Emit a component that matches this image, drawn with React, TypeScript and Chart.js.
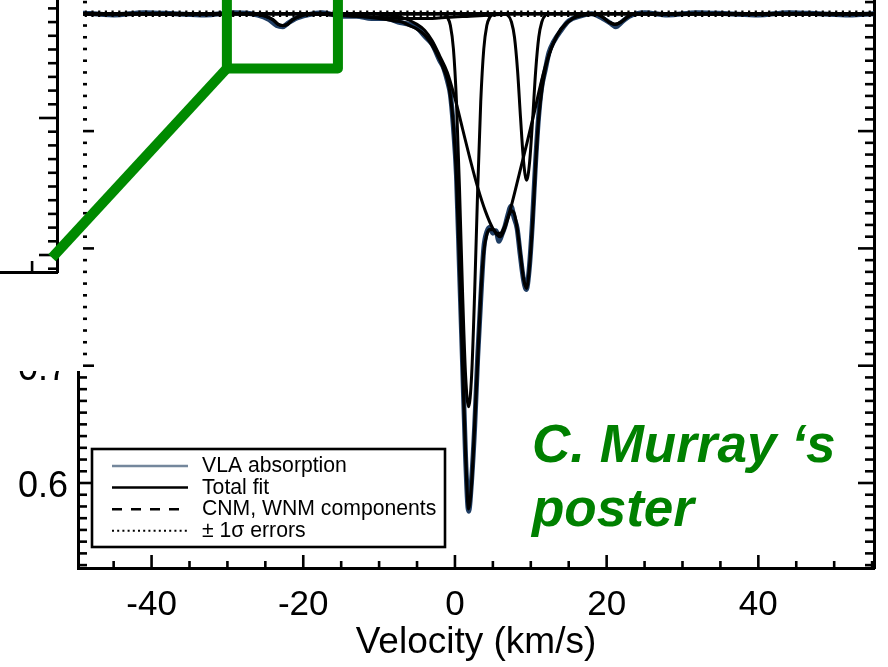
import React, { useEffect, useRef } from "react";
import { Chart, registerables } from "chart.js";

Chart.register(...registerables);

const FONT = "'Liberation Sans', Arial, Helvetica, sans-serif";

// VLA absorption spectrum, e^-tau against LSR velocity (km/s)
const vlaVelocity = [
  -49.7, -45, -41, -37, -33, -29, -26, -24.5, -23.5, -22.7,
  -22, -21, -19.5, -17.5, -15, -13, -11, -9, -7.5, -6,
  -5, -4, -3, -2, -1.5, -1, -0.6, -0.2, 0.2, 0.6,
  1.0, 1.4, 1.8, 2.2, 2.6, 3.0, 3.4, 3.8, 4.2, 4.6,
  5.0, 5.4, 5.8, 6.2, 6.6, 7.0, 7.4, 7.8, 8.2, 8.6,
  9.0, 9.4, 9.8, 10.2, 10.6, 11.0, 11.4, 11.9, 12.4, 13.0,
  14, 15, 16.5, 18, 19.5, 20.5, 21.2, 22, 23, 25,
  28, 32, 36, 40, 44, 48, 52, 55.25,
];
const vlaAbsorption = [
  1.001, 0.999, 1.001, 1.0, 0.999, 1.001, 0.999, 0.995, 0.99, 0.989,
  0.992, 0.996, 0.999, 1.001, 0.998, 0.998, 0.996, 0.996, 0.993, 0.991,
  0.988, 0.981, 0.974, 0.96, 0.954, 0.943, 0.931, 0.903, 0.862, 0.782,
  0.703, 0.622, 0.576, 0.603, 0.648, 0.708, 0.757, 0.8, 0.814, 0.818,
  0.813, 0.815, 0.806, 0.812, 0.819, 0.829, 0.836, 0.826, 0.817, 0.795,
  0.775, 0.765, 0.783, 0.821, 0.87, 0.91, 0.936, 0.952, 0.967, 0.976,
  0.986, 0.994, 0.998, 1.0, 0.996, 0.992, 0.989, 0.993, 0.998, 1.001,
  0.999, 1.001, 1.0, 0.999, 1.001, 1.0, 0.999, 1.0,
];

// Total Gaussian fit
const fitVelocity = [
  -49.7, -40, -32, -27, -25, -24, -23.3, -22.7, -22.1, -21.4,
  -20.4, -19, -16, -13, -10, -8, -7, -6, -5, -4,
  -3, -2, -1.5, -1, -0.6, -0.2, 0.2, 0.6, 1.0, 1.4,
  1.8, 2.2, 2.6, 3.0, 3.4, 3.8, 4.2, 4.6, 5.1, 5.5,
  6.0, 6.5, 7.0, 7.45, 7.85, 8.25, 8.65, 9.05, 9.45, 9.85,
  10.25, 10.65, 11.05, 11.45, 11.95, 12.45, 12.9, 14, 15.5, 17,
  18.5, 19.5, 20.3, 21.1, 21.9, 22.7, 23.7, 30, 40, 55.25,
];
const totalFit = [
  1.0, 1.0, 1.0, 1.0, 0.998, 0.995, 0.991, 0.99, 0.991, 0.995,
  0.998, 1.0, 0.999, 0.998, 0.996, 0.994, 0.993, 0.99, 0.987, 0.982,
  0.973, 0.961, 0.953, 0.944, 0.93, 0.905, 0.86, 0.785, 0.7, 0.625,
  0.578, 0.6, 0.65, 0.705, 0.76, 0.797, 0.812, 0.816, 0.816, 0.812,
  0.81, 0.816, 0.826, 0.832, 0.829, 0.815, 0.794, 0.774, 0.766, 0.786,
  0.824, 0.873, 0.912, 0.935, 0.954, 0.966, 0.974, 0.987, 0.996, 0.999,
  1.0, 0.997, 0.993, 0.991, 0.993, 0.997, 1.0, 1.0, 1.0, 1.0,
];

// Narrow cold component near 1.8 km/s
const cnmAVelocity = [-49.7, -1.5, -1.0, -0.6, -0.2, 0.2, 0.6, 1.0, 1.4, 1.8, 2.2, 2.6, 3.0, 3.4, 3.8, 4.2, 4.6, 5.1, 55.25];
const cnmA = [1, 1.0, 0.997, 0.99, 0.97, 0.925, 0.851, 0.763, 0.692, 0.665, 0.692, 0.763, 0.851, 0.925, 0.97, 0.99, 0.997, 1.0, 1];

// Narrow cold component near 9.5 km/s
const cnmBVelocity = [-49.7, 6.45, 6.95, 7.45, 7.85, 8.25, 8.65, 9.05, 9.45, 9.85, 10.25, 10.65, 11.05, 11.45, 11.95, 12.45, 55.25];
const cnmB = [1, 1.0, 0.999, 0.993, 0.98, 0.952, 0.911, 0.874, 0.858, 0.874, 0.911, 0.952, 0.98, 0.993, 0.999, 1.0, 1];

// Broad component centred near 5.5 km/s
const wnmAVelocity = [
  -49.7, -12, -9, -7, -5, -4, -3, -2, -1, 0,
  1, 2, 3, 4, 5, 5.5, 6, 6.5, 7, 7.5,
  8.5, 9.5, 10.5, 11.2, 12, 12.9, 14, 15.5, 17, 19, 55.25,
];
const wnmA = [
  1, 1.0, 0.999, 0.997, 0.991, 0.986, 0.977, 0.964, 0.95, 0.928,
  0.902, 0.876, 0.852, 0.832, 0.817, 0.813, 0.813, 0.818, 0.827, 0.838,
  0.864, 0.89, 0.917, 0.937, 0.957, 0.974, 0.987, 0.996, 0.999, 1.0, 1,
];

// Shallow wide component on the blue wing
const wnmBVelocity = [-49.7, -20, -16, -13, -10, -7, -5, -3, -1, 2, 5, 8, 55.25];
const wnmB = [1, 1.0, 0.999, 0.998, 0.997, 0.996, 0.996, 0.996, 0.997, 0.998, 0.999, 1.0, 1];

// Weak features at -22.7 and +21 km/s
const weakAVelocity = [-49.7, -26, -25, -24, -23.3, -22.7, -22.1, -21.4, -20.4, -19.4, 55.25];
const weakA = [1, 1.0, 0.998, 0.995, 0.991, 0.99, 0.991, 0.995, 0.998, 1.0, 1];
const weakBVelocity = [-49.7, 18.5, 19.5, 20.3, 21.1, 21.9, 22.7, 23.7, 55.25];
const weakB = [1, 1.0, 0.997, 0.993, 0.991, 0.993, 0.997, 1.0, 1];

// ±1σ noise envelope of the continuum
const errorVelocity = [-49.7, 55.25];
const errorUpper = [1.0018, 1.0018];
const errorLower = [0.9982, 0.9982];

const velocityTicks = [-40, -20, 0, 20, 40];
const absorptionTicks = [0.6, 0.7, 0.8, 0.9, 1.0];
const velocityRange = [-49.7, 55.25];
const absorptionRange = [0.52754, 1.01177];

// Window that is enlarged in the inset panel
const zoomVelocity = [-30.07, -15.43];
const zoomFloor = 0.9534;
const insetVelocityRange = [-27, -19.3];
const insetAbsorptionRange = [0.98876, 1.01591];
const insetAnchor = [-19.44, 0.9898];

const legendLabels = ["VLA absorption", "Total fit", "CNM, WNM components", "\u00b1 1\u03c3 errors"];
const legendStyles = [
  { color: "#74879c", width: 2.4, dash: [] as number[] },
  { color: "#000000", width: 2.5, dash: [] as number[] },
  { color: "#000000", width: 2.5, dash: [10, 9] },
  { color: "#000000", width: 2, dash: [2, 3.2] },
];

const DATA_COLOR = "#1f3d63";
const GREEN = "#008a00";

const pts = (xs: number[], ys: number[]) => xs.map((x, i) => ({ x, y: ys[i] }));

type TickSpec = { id: string; side: "bottom" | "left" | "right"; step: number; major: number; minorLen: number; majorLen: number };

// Inward-pointing major/minor tick marks, placed through the chart's own scales
function makeTickPlugin(specs: TickSpec[]) {
  return {
    id: "inwardTicks",
    afterDraw(chart: any) {
      const { ctx, chartArea } = chart;
      ctx.save();
      ctx.strokeStyle = "#000";
      ctx.lineWidth = 2.6;
      for (const spec of specs) {
        const scale = chart.scales[spec.id];
        if (!scale) continue;
        const every = Math.round(spec.major / spec.step);
        const k0 = Math.ceil(scale.min / spec.step - 1e-9);
        const k1 = Math.floor(scale.max / spec.step + 1e-9);
        for (let k = k0; k <= k1; k++) {
          const len = k % every === 0 ? spec.majorLen : spec.minorLen;
          const p = scale.getPixelForValue(k * spec.step);
          ctx.beginPath();
          if (spec.side === "bottom") {
            ctx.moveTo(p, chartArea.bottom);
            ctx.lineTo(p, chartArea.bottom - len);
          } else if (spec.side === "left") {
            ctx.moveTo(chartArea.left, p);
            ctx.lineTo(chartArea.left + len, p);
          } else {
            ctx.moveTo(chartArea.right, p);
            ctx.lineTo(chartArea.right - len, p);
          }
          ctx.stroke();
        }
      }
      ctx.restore();
    },
  };
}

// Boxed legend in the lower-left corner of the plot
const boxLegend = {
  id: "boxLegend",
  afterDraw(chart: any) {
    const { ctx, chartArea } = chart;
    const left = chartArea.left + 14;
    const bottom = chartArea.bottom - 21;
    const w = 353;
    const h = 98;
    const top = bottom - h;
    ctx.save();
    ctx.fillStyle = "#fff";
    ctx.fillRect(left, top, w, h);
    ctx.lineWidth = 2.6;
    ctx.strokeStyle = "#000";
    ctx.strokeRect(left, top, w, h);
    ctx.font = `21.2px ${FONT}`;
    ctx.textBaseline = "alphabetic";
    legendLabels.forEach((label, i) => {
      const y = top + 17 + i * 21.6;
      const st = legendStyles[i];
      ctx.beginPath();
      ctx.setLineDash(st.dash);
      ctx.lineWidth = st.width;
      ctx.strokeStyle = st.color;
      ctx.moveTo(left + 20, y);
      ctx.lineTo(left + 96, y);
      ctx.stroke();
      ctx.setLineDash([]);
      ctx.fillStyle = "#000";
      ctx.fillText(label, left + 110, y + 6);
    });
    ctx.restore();
  },
};

function drawZoomMarker(main: any, inset: any, overlay: HTMLCanvasElement, insetCanvas: HTMLCanvasElement) {
  const ctx = overlay.getContext("2d");
  if (!ctx) return;
  ctx.clearRect(0, 0, overlay.width, overlay.height);
  const o = overlay.getBoundingClientRect();
  const r = insetCanvas.getBoundingClientRect();
  const dx = r.left - o.left;
  const dy = r.top - o.top;
  const xs = main.scales.x;
  const ys = main.scales.y;
  const left = xs.getPixelForValue(zoomVelocity[0]);
  const right = xs.getPixelForValue(zoomVelocity[1]);
  const floor = ys.getPixelForValue(zoomFloor);
  const top = ys.getPixelForValue(1.05);
  const ex = inset.scales.x.getPixelForValue(insetAnchor[0]) + dx;
  const ey = inset.scales.y.getPixelForValue(insetAnchor[1]) + dy;
  ctx.save();
  ctx.strokeStyle = GREEN;
  ctx.lineWidth = 10;
  ctx.lineJoin = "round";
  ctx.lineCap = "butt";
  ctx.beginPath();
  ctx.moveTo(left, top);
  ctx.lineTo(left, floor);
  ctx.lineTo(right, floor);
  ctx.lineTo(right, top);
  ctx.stroke();
  ctx.beginPath();
  ctx.moveTo(left, floor);
  ctx.lineTo(ex, ey);
  ctx.stroke();
  ctx.restore();
}

export default function App() {
  const mainRef = useRef<HTMLCanvasElement>(null);
  const insetRef = useRef<HTMLCanvasElement>(null);
  const overlayRef = useRef<HTMLCanvasElement>(null);

  useEffect(() => {
    Chart.defaults.font.family = FONT;
    Chart.defaults.color = "#000";

    const noGrid = { display: false, drawTicks: false };
    const border = { display: true, width: 3, color: "#000" };

    const inset = new Chart(insetRef.current as HTMLCanvasElement, {
      type: "line",
      data: { datasets: [] },
      options: {
        animation: false,
        responsive: false,
        devicePixelRatio: 1,
        layout: { padding: 0 },
        plugins: { legend: { display: false }, tooltip: { enabled: false } },
        scales: {
          x: {
            type: "linear",
            position: "bottom",
            min: insetVelocityRange[0],
            max: insetVelocityRange[1],
            grid: noGrid,
            border,
            ticks: { display: false },
            afterFit: (s: any) => {
              s.height = 99;
              s.paddingLeft = 0;
              s.paddingRight = 0;
            },
          },
          y: {
            type: "linear",
            position: "right",
            min: insetAbsorptionRange[0],
            max: insetAbsorptionRange[1],
            grid: noGrid,
            border,
            ticks: { display: false },
            afterFit: (s: any) => {
              s.width = 26;
              s.paddingTop = 0;
              s.paddingBottom = 0;
            },
          },
        },
      } as any,
      plugins: [
        makeTickPlugin([
          { id: "y", side: "right", step: 0.001, major: 0.01, minorLen: 9, majorLen: 18 },
          { id: "x", side: "bottom", step: 1, major: 5, minorLen: 6, majorLen: 11 },
        ]),
      ],
    });

    const component = (data: { x: number; y: number }[], label: string) => ({
      label,
      data,
      borderColor: "#000",
      borderWidth: 3,
      order: 2,
    });

    const main = new Chart(mainRef.current as HTMLCanvasElement, {
      type: "line",
      data: {
        datasets: [
          { label: "+1σ", data: pts(errorVelocity, errorUpper), borderColor: "#000", borderWidth: 2.2, borderDash: [2.2, 4.5], order: 0 },
          { label: "-1σ", data: pts(errorVelocity, errorLower), borderColor: "#000", borderWidth: 2.2, borderDash: [2.2, 4.5], order: 0 },
          { label: "Total fit", data: pts(fitVelocity, totalFit), borderColor: "#000", borderWidth: 3.2, order: 1 },
          component(pts(cnmAVelocity, cnmA), "CNM 1"),
          component(pts(cnmBVelocity, cnmB), "CNM 2"),
          component(pts(wnmAVelocity, wnmA), "WNM 1"),
          component(pts(wnmBVelocity, wnmB), "WNM 2"),
          component(pts(weakAVelocity, weakA), "CNM 3"),
          component(pts(weakBVelocity, weakB), "CNM 4"),
          { label: "VLA absorption", data: pts(vlaVelocity, vlaAbsorption), borderColor: DATA_COLOR, borderWidth: 5, order: 3 },
        ],
      },
      options: {
        animation: false,
        responsive: false,
        devicePixelRatio: 1,
        layout: { padding: 0 },
        elements: {
          point: { radius: 0 },
          line: { cubicInterpolationMode: "monotone", fill: false },
        },
        plugins: { legend: { display: false }, tooltip: { enabled: false } },
        scales: {
          x: {
            type: "linear",
            position: "bottom",
            min: velocityRange[0],
            max: velocityRange[1],
            grid: noGrid,
            border,
            afterBuildTicks: (s: any) => {
              s.ticks = velocityTicks.map((value) => ({ value }));
            },
            ticks: {
              font: { size: 35 },
              color: "#000",
              padding: 16,
              maxRotation: 0,
              autoSkip: false,
              callback: (v: any) => String(v),
            },
            title: {
              display: true,
              text: "Velocity (km/s)",
              font: { size: 37 },
              color: "#000",
              padding: { top: 0, bottom: 2 },
            },
            afterFit: (s: any) => {
              s.height = 99;
              s.paddingLeft = 0;
              s.paddingRight = 0;
            },
          },
          y: {
            type: "linear",
            position: "left",
            min: absorptionRange[0],
            max: absorptionRange[1],
            grid: noGrid,
            border,
            afterBuildTicks: (s: any) => {
              s.ticks = absorptionTicks.map((value) => ({ value }));
            },
            ticks: {
              font: { size: 36 },
              color: "#000",
              padding: 10,
              labelOffset: 4,
              autoSkip: false,
              callback: (v: any) => Number(v).toFixed(1),
            },
            afterFit: (s: any) => {
              s.width = 78;
              s.paddingTop = 0;
              s.paddingBottom = 0;
            },
          },
          yRight: {
            type: "linear",
            position: "right",
            min: absorptionRange[0],
            max: absorptionRange[1],
            grid: noGrid,
            border,
            ticks: { display: false },
            afterFit: (s: any) => {
              s.width = 14;
              s.paddingTop = 0;
              s.paddingBottom = 0;
            },
          },
        },
      } as any,
      plugins: [
        makeTickPlugin([
          { id: "x", side: "bottom", step: 5, major: 20, minorLen: 7, majorLen: 13 },
          { id: "y", side: "left", step: 0.01, major: 0.1, minorLen: 9, majorLen: 16 },
          { id: "yRight", side: "right", step: 0.01, major: 0.1, minorLen: 9, majorLen: 16 },
        ]),
        boxLegend,
      ],
    });

    drawZoomMarker(main, inset, overlayRef.current as HTMLCanvasElement, insetRef.current as HTMLCanvasElement);

    return () => {
      main.destroy();
      inset.destroy();
    };
  }, []);

  return (
    <div style={{ position: "absolute", left: 0, top: 0, width: 888, height: 667, overflow: "hidden", background: "#fff" }}>
      <canvas ref={mainRef} width={888} height={667} style={{ position: "absolute", left: 0, top: 0 }} />
      <div style={{ position: "absolute", left: 0, top: 0, width: 83, height: 371, overflow: "hidden", background: "#fff" }}>
        <canvas ref={insetRef} width={300} height={471} style={{ position: "absolute", left: -217, top: -100 }} />
      </div>
      <canvas
        ref={overlayRef}
        width={888}
        height={667}
        style={{ position: "absolute", left: 0, top: 0, pointerEvents: "none" }}
      />
      <div
        style={{
          position: "absolute",
          left: 532,
          top: 412,
          font: `italic bold 53px/64px ${FONT}`,
          color: "#008000",
          whiteSpace: "pre",
        }}
      >
        {"C. Murray \u2018s"}
        <br />
        {"poster"}
      </div>
    </div>
  );
}
